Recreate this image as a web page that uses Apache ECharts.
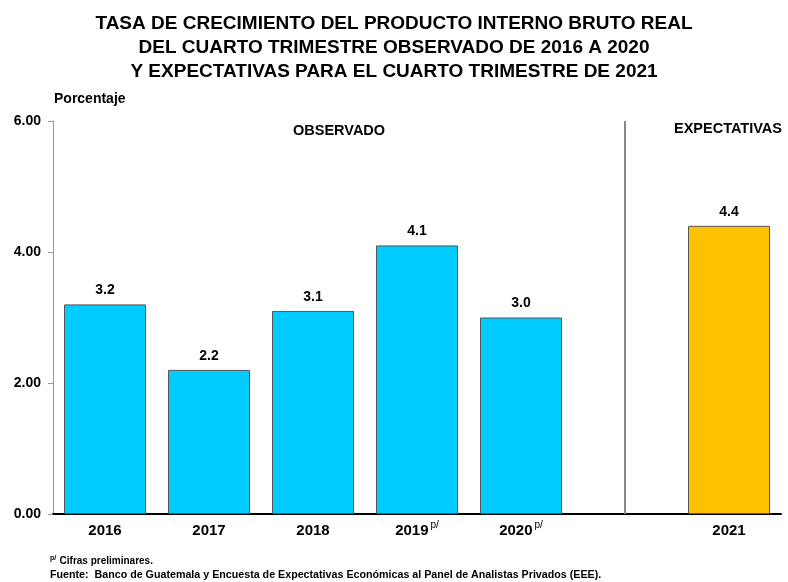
<!DOCTYPE html>
<html><head><meta charset="utf-8">
<script src="https://cdn.jsdelivr.net/npm/echarts@6/dist/echarts.min.js"></script>
<style>html,body{margin:0;padding:0;background:#fff}#c{width:788px;height:582px}</style>
</head><body><div id="c"></div>
<script>
const categories = ['2016', '2017', '2018', '2019', '2020', '', '2021'];
const superscripts = ['', '', '', 'p/', 'p/', '', ''];
const observed = [3.2, 2.2, 3.1, 4.1, 3.0, null, null];
const expected = [null, null, null, null, null, null, 4.4];
const yTicks = [0, 2, 4, 6];

const F = '"Liberation Sans", Arial, sans-serif';
const chart = echarts.init(document.getElementById('c'));
chart.setOption({
  animation: false,
  textStyle: { fontFamily: F },
  title: {
    text: 'TASA DE CRECIMIENTO DEL PRODUCTO INTERNO BRUTO REAL\nDEL CUARTO TRIMESTRE OBSERVADO DE 2016 A 2020\nY EXPECTATIVAS PARA EL CUARTO TRIMESTRE DE 2021',
    left: 'center', top: 7,
    textStyle: { fontFamily: F, fontSize: 19, fontWeight: 'bold', color: '#000', lineHeight: 24 }
  },
  graphic: [
    { type: 'text', left: 54, top: 92, style: { text: 'Porcentaje', font: 'bold 14px ' + F, fill: '#000' } },
    { type: 'text', left: 293, top: 123, style: { text: 'OBSERVADO', font: 'bold 14.5px ' + F, fill: '#000' } },
    { type: 'text', left: 674, top: 121, style: { text: 'EXPECTATIVAS', font: 'bold 14.5px ' + F, fill: '#000' } },
    { type: 'text', left: 50, top: 555, style: { rich: { s: { fontSize: 7, fontWeight: 'bold', verticalAlign: 'top', fill: '#000', fontFamily: F }, t: { fontSize: 10, fontWeight: 'bold', fill: '#000', fontFamily: F } }, text: '{s|p/} {t|Cifras preliminares.}' } },
    { type: 'text', left: 50, top: 570, style: { text: 'Fuente:  Banco de Guatemala y Encuesta de Expectativas Económicas al Panel de Analistas Privados (EEE).', font: 'bold 10.7px ' + F, fill: '#000' } }
  ],
  grid: { left: 53, right: 7, top: 121, bottom: 68 },
  xAxis: {
    type: 'category', data: categories,
    axisLine: { lineStyle: { color: '#000', width: 2 } },
    axisTick: { show: false },
    axisLabel: {
      interval: 0, margin: 6, color: '#000', lineHeight: 22,
      formatter: (v, i) => superscripts[i] ? '{y|' + v + '}{s|' + superscripts[i] + '}' : '{y|' + v + '}',
      rich: {
        y: { fontSize: 15, fontWeight: 'bold', fontFamily: F, color: '#000', lineHeight: 22 },
        s: { fontSize: 10, fontFamily: F, color: '#000', verticalAlign: 'top', lineHeight: 10, padding: [0, 0, 12, 2] }
      }
    }
  },
  yAxis: {
    type: 'value', min: 0, max: 6, interval: 2,
    axisLine: { show: true, lineStyle: { color: '#999', width: 1 } },
    axisTick: { show: true, length: 5, lineStyle: { color: '#999' } },
    splitLine: { show: false },
    axisLabel: { margin: 12, color: '#000', fontSize: 14, fontWeight: 'bold', fontFamily: F, formatter: v => yTicks.includes(v) ? v.toFixed(2) : '' }
  },
  series: [
    {
      type: 'bar', data: observed, barWidth: 82, barGap: '-100%',
      itemStyle: { color: '#00CCFF', borderColor: '#555', borderWidth: 1 },
      label: { show: true, position: 'top', distance: 7, color: '#000', fontSize: 14, fontWeight: 'bold', fontFamily: F, formatter: p => p.value.toFixed(1) },
      markLine: {
        symbol: 'none', silent: true,
        label: { show: false },
        lineStyle: { color: '#888', width: 2, type: 'solid' },
        data: [{ xAxis: 5 }]
      }
    },
    {
      type: 'bar', data: expected, barWidth: 82,
      itemStyle: { color: '#FFC000', borderColor: '#555', borderWidth: 1 },
      label: { show: true, position: 'top', distance: 7, color: '#000', fontSize: 14, fontWeight: 'bold', fontFamily: F, formatter: p => p.value.toFixed(1) }
    }
  ]
});
</script></body></html>
